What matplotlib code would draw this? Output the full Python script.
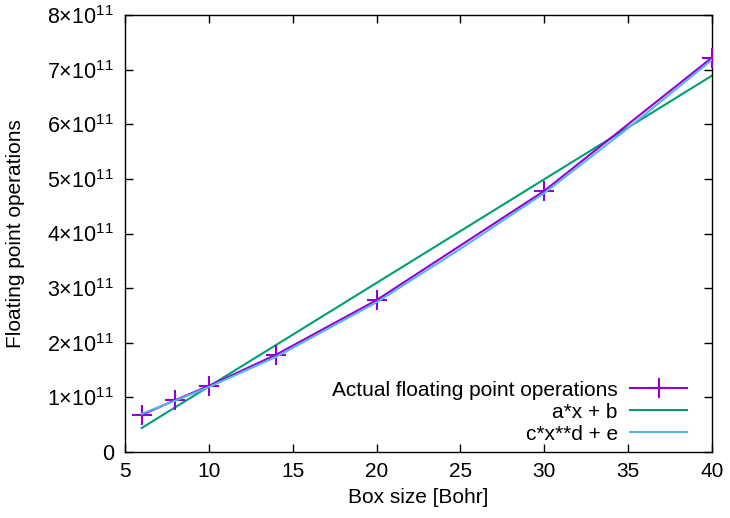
import matplotlib
matplotlib.use("Agg")
import matplotlib.pyplot as plt
from matplotlib.ticker import FuncFormatter

plt.rcParams['font.family'] = ['Liberation Sans', 'DejaVu Sans']
plt.rcParams['mathtext.fontset'] = 'custom'
plt.rcParams['mathtext.rm'] = 'Liberation Sans'
plt.rcParams['mathtext.it'] = 'Liberation Sans:italic'

# Data
box_size = [6, 8, 10, 14, 20, 30, 40]
flops = [0.68e11, 0.95e11, 1.21e11, 1.78e11, 2.78e11, 4.78e11, 7.22e11]

linear_x = [6, 40]
linear_y = [0.44e11, 6.89e11]

power_x = [6, 8, 10, 14, 20, 25, 30, 35, 40]
power_y = [0.70e11, 0.94e11, 1.19e11, 1.74e11, 2.74e11, 3.72e11, 4.74e11, 5.93e11, 7.18e11]

x_ticks = [5, 10, 15, 20, 25, 30, 35, 40]
y_ticks = [0, 1e11, 2e11, 3e11, 4e11, 5e11, 6e11, 7e11, 8e11]

FS = 15

fig = plt.figure(figsize=(7.30, 5.18), dpi=100)
ax = fig.add_axes([125/730, 66/518, 587/730, 437/518])

ax.plot(box_size, flops, color='#9400d3', lw=1.5, marker='+', ms=14, mew=1.5,
        label='Actual floating point operations', zorder=3)
ax.plot(linear_x, linear_y, color='#009e73', lw=1.5, label='a*x + b', zorder=2)
ax.plot(power_x, power_y, color='#56b4e9', lw=1.5, label='c*x**d + e', zorder=4)

ax.set_xlim(5, 40)
ax.set_ylim(0, 8e11)
ax.set_xticks(x_ticks)
ax.set_yticks(y_ticks)

def yfmt(v, pos):
    if v == 0:
        return '0'
    return r'$\mathregular{%d{\times}10^{11}}$' % round(v / 1e11)

ax.yaxis.set_major_formatter(FuncFormatter(yfmt))
ax.tick_params(direction='in', length=6, width=1, labelsize=FS,
               top=True, right=True, pad=7)
ax.tick_params(axis='y', labelsize=15.5, pad=8)
for s in ax.spines.values():
    s.set_linewidth(1)

ax.set_xlabel('Box size [Bohr]', fontsize=FS, labelpad=5)
ax.set_ylabel('Floating point operations', fontsize=FS, labelpad=16)

leg = ax.legend(loc='lower right', bbox_to_anchor=(0.976, -0.005), borderpad=0,
                frameon=False, markerfirst=False, fontsize=FS,
                handlelength=2.75, handletextpad=0.6, labelspacing=0.15)

fig.savefig('out.png', dpi=100)
